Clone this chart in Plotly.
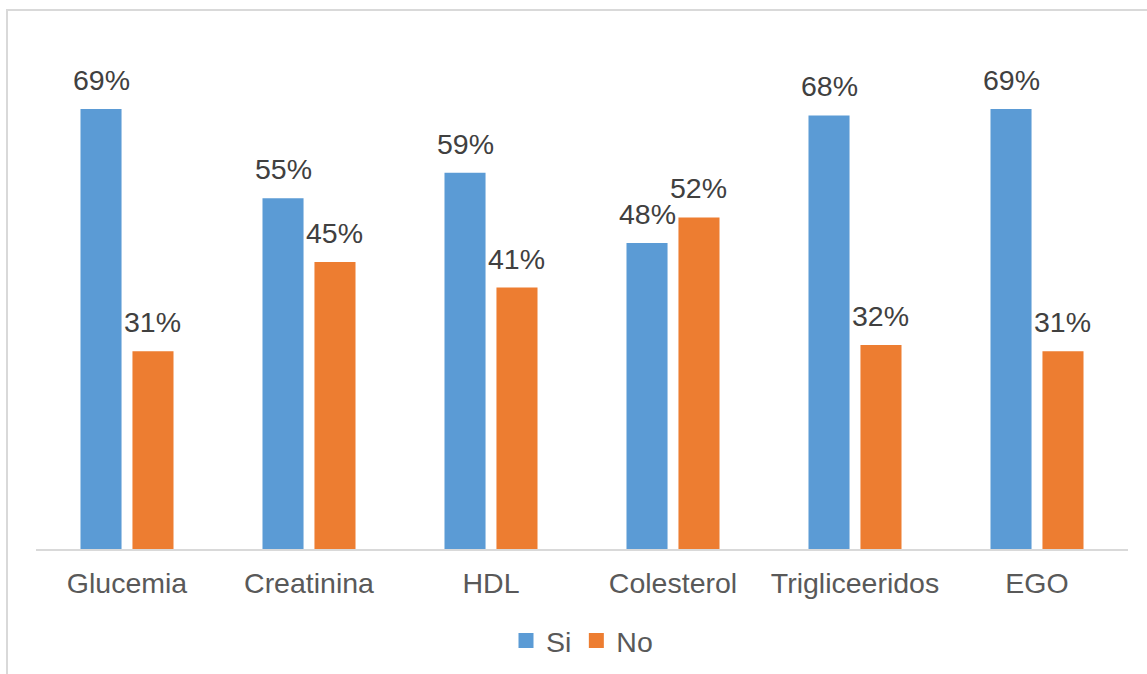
import plotly.graph_objects as go

categories = ["Glucemia", "Creatinina", "HDL", "Colesterol", "Trigliceeridos", "EGO"]
si_values = [69, 55, 59, 48, 68, 69]
no_values = [31, 45, 41, 52, 32, 31]
series_names = ["Si", "No"]
colors = ["#5B9BD5", "#ED7D31"]

W, H = 1147, 674
L, R, T, B = 36, 19, 30, 125
plot_w = W - L - R
plot_h = H - T - B
px_per_unit = 440 / 69.0
y_max = plot_h / px_per_unit

font_family = "Liberation Sans, Arial, sans-serif"
fsize = 28.5

fig = go.Figure()
for name, vals, col in zip(series_names, [si_values, no_values], colors):
    fig.add_trace(go.Bar(
        x=categories, y=vals, name=name,
        marker=dict(color=col, line=dict(width=0)),
        showlegend=False,
    ))
    fig.add_trace(go.Scatter(
        x=[None], y=[None], mode="markers", name=name,
        marker=dict(symbol="square", size=15, color=col),
        showlegend=True,
    ))

slot_px = plot_w / len(categories) * (1 - 0.429) / 2
annotations = []
for i, vals in enumerate([si_values, no_values]):
    shift = (-0.5 if i == 0 else 0.5) * slot_px
    for c, v in zip(categories, vals):
        annotations.append(dict(
            x=c, y=v, xref="x", yref="y", text=f"{v}%", showarrow=False,
            xshift=shift, yshift=11, yanchor="bottom",
            font=dict(family=font_family, size=fsize, color="#404040"),
        ))

fig.update_layout(
    width=W, height=H,
    margin=dict(l=L, r=R, t=T, b=B, pad=0, autoexpand=False),
    paper_bgcolor="white", plot_bgcolor="white",
    barmode="group", bargap=0.429, bargroupgap=0.21,
    font=dict(family=font_family, size=fsize, color="#595959"),
    showlegend=True,
    legend=dict(orientation="h", x=0.5, xanchor="center",
                y=(H - B - 641) / plot_h, yanchor="middle",
                font=dict(family=font_family, size=fsize, color="#595959"),
                itemwidth=30, tracegroupgap=0),
    annotations=annotations,
    xaxis=dict(showline=True, linecolor="#D9D9D9", linewidth=2, ticks="",
               showgrid=False, zeroline=False, ticklabelstandoff=8, automargin=False,
               tickfont=dict(family=font_family, size=fsize, color="#595959")),
    yaxis=dict(range=[0, y_max], visible=False, showgrid=False, zeroline=False,
               automargin=False),
    shapes=[dict(type="rect", xref="paper", yref="paper",
                 x0=(7 - L) / plot_w, x1=1.1,
                 y0=-0.4, y1=(H - B - 10) / plot_h,
                 line=dict(color="#D9D9D9", width=2), fillcolor="rgba(0,0,0,0)",
                 layer="below")],
)

fig.write_html("out.html", config={"displayModeBar": False},
               post_script="document.body.style.margin='0';document.body.style.overflow='hidden';")
